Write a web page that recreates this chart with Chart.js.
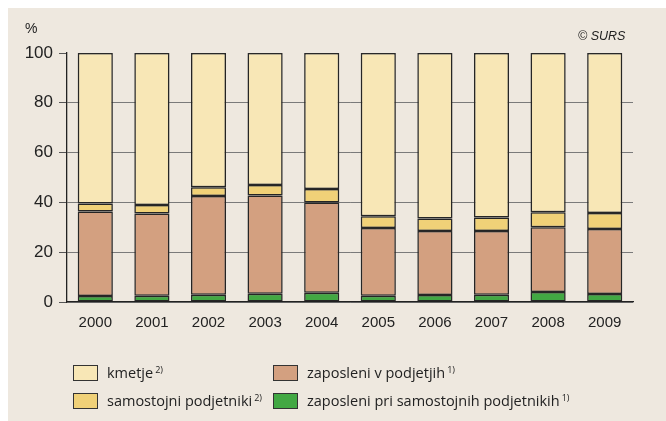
<!DOCTYPE html>
<html>
<head>
<meta charset="utf-8">
<script src="https://cdn.jsdelivr.net/npm/chart.js@4/dist/chart.umd.min.js"></script>
<style>
  body { margin: 0; background: #fff; }
  #wrap { position: absolute; left: 8px; top: 8px; width: 658px; height: 413px; background: #EEE8DF; }
  #c { position: absolute; left: 0; top: 0; }
  .lbl { position: absolute; font-family: "Liberation Sans", Arial, sans-serif; color: #222; }
  .leg { position: absolute; font-family: "Open Sans", sans-serif; font-size: 14.5px; color: #222; white-space: nowrap; }
  .box { position: absolute; width: 23px; height: 14px; border: 1px solid #333; }
  .leg sup { font-size: 9px; vertical-align: 5px; margin-left: 2px; }
</style>
</head>
<body>
<div id="wrap">
  <canvas id="c" width="658" height="413"></canvas>
  <div class="lbl" style="left:17px; top:12px; font-size:14px;">%</div>
  <div class="lbl" style="left:570px; top:21px; font-size:12.5px; font-style:italic;">© SURS</div>

  <div class="box" style="left:65px; top:357px; background:#F8E7B6;"></div>
  <div class="leg" style="left:99px; top:355px;">kmetje<sup>2)</sup></div>
  <div class="box" style="left:265px; top:357px; background:#D3A080;"></div>
  <div class="leg" style="left:299px; top:355px;">zaposleni v podjetjih<sup>1)</sup></div>
  <div class="box" style="left:65px; top:385px; background:#F0D178;"></div>
  <div class="leg" style="left:99px; top:383px;">samostojni podjetniki<sup>2)</sup></div>
  <div class="box" style="left:265px; top:385px; background:#42A843;"></div>
  <div class="leg" style="left:299px; top:383px;">zaposleni pri samostojnih podjetnikih<sup>1)</sup></div>
</div>
<script>
var years = ["2000", "2001", "2002", "2003", "2004", "2005", "2006", "2007", "2008", "2009"];
var zaposleniPriSamostojnih = [2.4, 2.5, 2.9, 3.3, 3.7, 2.5, 2.8, 2.9, 4.0, 3.2];
var zaposleniVPodjetjih = [33.9, 33.0, 39.7, 39.5, 36.3, 27.2, 25.7, 25.6, 26.0, 26.1];
var samostojniPodjetniki = [3.3, 3.5, 3.5, 4.2, 5.4, 4.7, 5.0, 5.4, 6.0, 6.4];
var kmetje = [60.4, 61.0, 53.9, 53.0, 54.6, 65.6, 66.5, 66.1, 64.0, 64.3];
var yTicks = [0, 20, 40, 60, 80, 100];

function ds(label, data, color) {
  return {
    label: label,
    data: data,
    backgroundColor: color,
    borderColor: '#2a2a2a',
    borderWidth: 1.5,
    borderSkipped: false,
    barPercentage: 0.62,
    categoryPercentage: 1
  };
}

// soft grey shadow round the bars
var barShadow = {
  id: 'barShadow',
  beforeDatasetsDraw: function (chart) {
    var c = chart.ctx;
    c.save();
    c.shadowColor = 'rgba(0,0,0,0.35)';
    c.shadowBlur = 3;
  },
  afterDatasetsDraw: function (chart) {
    chart.ctx.restore();
  }
};

var ctx = document.getElementById('c').getContext('2d');
var chart = new Chart(ctx, {
  type: 'bar',
  data: {
    labels: years,
    datasets: [
      ds('zaposleni pri samostojnih podjetnikih', zaposleniPriSamostojnih, '#42A843'),
      ds('zaposleni v podjetjih', zaposleniVPodjetjih, '#D3A080'),
      ds('samostojni podjetniki', samostojniPodjetniki, '#F0D178'),
      ds('kmetje', kmetje, '#F8E7B6')
    ]
  },
  plugins: [barShadow],
  options: {
    responsive: false,
    animation: false,
    layout: { padding: { left: 0, top: 45, right: 33, bottom: 79 } },
    plugins: { legend: { display: false }, tooltip: { enabled: false } },
    scales: {
      x: {
        stacked: true,
        grid: { display: false, drawTicks: false },
        border: { display: true, color: '#222', width: 1.3 },
        ticks: { padding: 12, color: '#222', font: { family: 'Liberation Sans', size: 15 } },
        afterFit: function (s) { s.height = 40; }
      },
      y: {
        stacked: true,
        min: 0,
        max: 100,
        afterBuildTicks: function (s) { s.ticks = yTicks.map(function (v) { return { value: v }; }); },
        grid: {
          color: function (c) { return c.tick && c.tick.value === 100 ? 'rgba(0,0,0,0)' : '#7a7a7a'; },
          tickColor: '#555',
          tickLength: 8,
          lineWidth: 1
        },
        border: { display: true, color: '#222', width: 1.3 },
        ticks: { padding: 6, color: '#222', font: { family: 'Liberation Sans', size: 17 } },
        afterFit: function (s) { s.width = 59; }
      }
    }
  }
});
</script>
</body>
</html>
